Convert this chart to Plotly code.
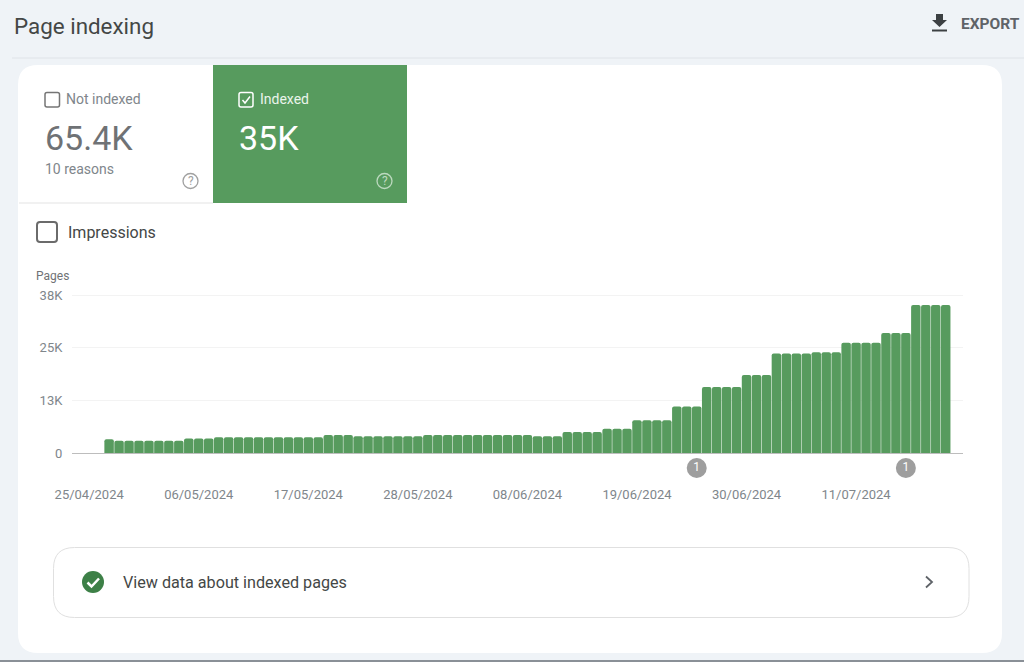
import pandas as pd
import plotly.graph_objects as go

W, H = 1024, 662

# daily indexed pages
indexed_pages = [
    3300, 2950, 2950, 2950, 2950, 2950, 2950, 2950,
    3500, 3500, 3500,
    3800, 3800, 3800, 3800, 3800, 3800, 3800, 3800, 3800, 3800, 3800,
    4300, 4300, 4300,
    4000, 4000, 4000, 4000, 4000, 4000, 4000,
    4300, 4300, 4300, 4300, 4300, 4300, 4300, 4300, 4300, 4300, 4300,
    4000, 4000, 4000,
    5050, 5050, 5050, 5050,
    5850, 5850, 5850,
    7850, 7850, 7850, 7850,
    11200, 11200, 11200,
    15900, 15900, 15900, 15900,
    18750, 18750, 18750,
    23900, 23900, 23900, 23900,
    24200, 24200, 24200,
    26500, 26500, 26500, 26500,
    28850, 28850, 28850,
    35600, 35600, 35600, 35600,
]
dates = pd.date_range("2024-04-27", periods=len(indexed_pages))

y_ticks = [0, 12667, 25333, 38000]
y_labels = ["0", "13K", "25K", "38K"]

event_dates = ["2024-06-25", "2024-07-16"]
event_labels = ["1", "1"]
event_level = [-3600, -3600]

GREEN = "#579b5e"
GREY_TEXT = "#80868b"
DARK_TEXT = "#444746"

# y axis runs past 0 and 38K so the event markers and the top grid line survive
Y_MIN, Y_MAX = -6000, 40000
PX_PER_PAGE = 158 / 38000
PLOT_BOTTOM = 453 - Y_MIN * PX_PER_PAGE
PLOT_TOP = 453 - Y_MAX * PX_PER_PAGE


# pixel position in the 1024x662 picture -> paper coordinates
def px(x):
    return x / W


def py(y):
    return 1 - y / H


def rounded(x0, y0, x1, y1, r):
    # rounded rectangle as an svg path
    pts = [
        f"M {px(x0 + r)} {py(y0)}", f"L {px(x1 - r)} {py(y0)}",
        f"Q {px(x1)} {py(y0)} {px(x1)} {py(y0 + r)}", f"L {px(x1)} {py(y1 - r)}",
        f"Q {px(x1)} {py(y1)} {px(x1 - r)} {py(y1)}", f"L {px(x0 + r)} {py(y1)}",
        f"Q {px(x0)} {py(y1)} {px(x0)} {py(y1 - r)}", f"L {px(x0)} {py(y0 + r)}",
        f"Q {px(x0)} {py(y0)} {px(x0 + r)} {py(y0)}", "Z",
    ]
    return " ".join(pts)


def poly(points, close=False):
    out = []
    for i, (x, y) in enumerate(points):
        out.append(("M" if i == 0 else "L") + f" {px(x)} {py(y)}")
    if close:
        out.append("Z")
    return " ".join(out)


def path_shape(path, fill="rgba(0,0,0,0)", line="rgba(0,0,0,0)", width=1):
    return dict(type="path", xref="paper", yref="paper", path=path, fillcolor=fill,
                line=dict(color=line, width=width), layer="below")


def circle(cx, cy, r, fill="rgba(0,0,0,0)", line="rgba(0,0,0,0)", width=1):
    return dict(type="circle", xref="paper", yref="paper", x0=px(cx - r), x1=px(cx + r),
                y0=py(cy + r), y1=py(cy - r), fillcolor=fill,
                line=dict(color=line, width=width), layer="below")


def label(x, y, text, size, color, anchor="left", family="Roboto"):
    return dict(x=px(x), y=py(y), xref="paper", yref="paper", text=text, showarrow=False,
                xanchor=anchor, yanchor="middle", align=anchor,
                font=dict(family=family, size=size, color=color), borderpad=0, borderwidth=0)


shapes = [
    # header rule, card, bottom edge
    path_shape(poly([(12, 58), (1024, 58)]), line="#dfe3e8"),
    path_shape(rounded(18, 65, 1002, 653, 20), fill="white"),
    path_shape(poly([(0, 661), (1024, 661)]), line="#8a9097", width=2),
    # export icon
    path_shape(poly([(936, 14), (943, 14), (943, 20), (947, 20), (939.5, 27), (932, 20), (936, 20)], True), fill="#3c4043"),
    path_shape(poly([(932, 30.5), (947, 30.5)]), line="#3c4043", width=2),
    # tiles
    dict(type="rect", xref="paper", yref="paper", x0=px(213), x1=px(407), y0=py(203), y1=py(65),
         fillcolor=GREEN, line=dict(width=0), layer="below"),
    path_shape(poly([(19, 203), (213, 203)]), line="#e3e3e3"),
    path_shape(rounded(45, 92.5, 59.5, 107, 2), line="#757575", width=1.5),
    path_shape(rounded(239, 92.5, 253, 107, 2), line="white", width=1.5),
    path_shape(poly([(242.5, 100), (245, 103), (250, 96.5)]), line="white", width=1.5),
    circle(190.5, 181, 7.5, line="#a0a0a0", width=1.3),
    circle(384.5, 181, 7.5, line="#bcd9bf", width=1.3),
    # impressions checkbox
    path_shape(rounded(37, 222, 57, 242, 3), line="#6b6b6b", width=2),
    # bottom link
    path_shape(rounded(53.5, 547.5, 969, 617.5, 21), fill="white", line="#e0e0e0"),
    circle(93, 582, 11, fill="#3d8047"),
    path_shape(poly([(87.5, 582.5), (91.5, 586.5), (99, 578.5)]), line="white", width=2.5),
    path_shape(poly([(926, 576.5), (932, 582), (926, 587.5)]), line="#5f6368", width=1.8),
]

annotations = [
    label(14, 26, "Page indexing", 22.4, DARK_TEXT),
    label(961, 24, "<b>EXPORT</b>", 15.5, "#5f6368"),
    label(66, 99, "Not indexed", 14, GREY_TEXT),
    label(45, 138, "65.4K", 34, "#6f7275"),
    label(45, 169, "10 reasons", 14, GREY_TEXT),
    label(190.5, 181, "?", 12, "#a0a0a0", "center"),
    label(260, 99, "Indexed", 14, "#eaf4eb"),
    label(239, 138, "35K", 34, "white"),
    label(384.5, 181, "?", 12, "#bcd9bf", "center"),
    label(68, 232.5, "Impressions", 16, DARK_TEXT),
    label(36, 276, "Pages", 12, "#6f7275"),
    label(123, 582, "View data about indexed pages", 16.15, DARK_TEXT),
]

fig = go.Figure()

fig.add_trace(go.Bar(
    x=dates,
    y=indexed_pages,
    marker=dict(color=GREEN, line=dict(width=0), cornerradius=2),
    width=0.95 * 86400000,
    hoverinfo="skip",
))

fig.add_trace(go.Scatter(
    x=event_dates,
    y=event_level,
    mode="markers+text",
    text=event_labels,
    textposition="middle center",
    textfont=dict(family="Roboto", size=12, color="white"),
    marker=dict(size=20, color="#9e9e9e"),
    cliponaxis=False,
    hoverinfo="skip",
))

fig.update_layout(
    width=W,
    height=H,
    margin=dict(l=0, r=0, t=0, b=0, autoexpand=False),
    paper_bgcolor="#eff3f7",
    plot_bgcolor="rgba(0,0,0,0)",
    showlegend=False,
    shapes=shapes,
    annotations=annotations,
    xaxis=dict(
        domain=[px(72), px(963)],
        type="date",
        automargin=False,
        range=[dates[0] - pd.Timedelta(days=3.725), dates[0] + pd.Timedelta(days=85.735)],
        tick0="2024-04-25",
        dtick=11 * 86400000,
        tickformat="%d/%m/%Y",
        ticks="outside",
        ticklen=4,
        tickcolor="rgba(0,0,0,0)",
        tickfont=dict(family="Roboto", size=13, color=GREY_TEXT),
        showgrid=False,
        showline=False,
        zeroline=False,
    ),
    yaxis=dict(
        domain=[py(PLOT_BOTTOM), py(PLOT_TOP)],
        automargin=False,
        range=[Y_MIN, Y_MAX],
        tickmode="array",
        tickvals=y_ticks,
        ticktext=y_labels,
        ticks="outside",
        ticklen=6,
        tickcolor="rgba(0,0,0,0)",
        tickfont=dict(family="Roboto", size=13, color=GREY_TEXT),
        showgrid=True,
        gridcolor="#f3f3f3",
        gridwidth=1,
        zeroline=True,
        zerolinecolor="#bdbdbd",
        zerolinewidth=1,
        showline=False,
    ),
)

fig.write_html("out.html", config={"displayModeBar": False},
               post_script="document.body.style.margin = '0';")
